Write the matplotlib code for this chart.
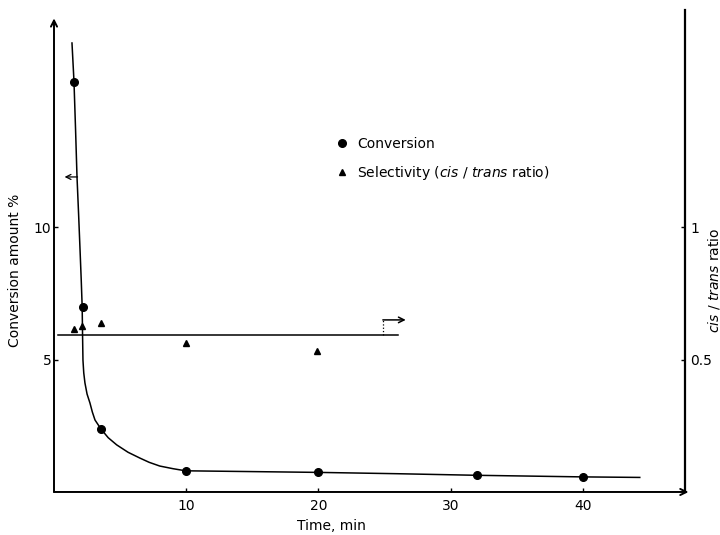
import matplotlib
matplotlib.use("Agg")
import matplotlib.pyplot as plt
from matplotlib.lines import Line2D

# measured points
time_conv = [1.5, 2.17, 3.55, 9.95, 20, 32, 40]
conversion = [15.5, 6.97, 2.38, 0.8, 0.75, 0.63, 0.56]

time_sel = [1.51, 2.14, 3.53, 9.95, 19.9]
selectivity = [0.616, 0.627, 0.637, 0.564, 0.532]

# hand-drawn curve through conversion points
curve_t = [1.36, 1.51, 1.63, 1.74, 1.86, 1.97, 2.06, 2.13, 2.16, 2.19, 2.25, 2.34,
           2.5, 2.72, 2.9, 3.1, 3.55, 4.1, 4.74, 5.6, 6.5, 7.2, 8.0, 9.0, 9.95,
           15, 20, 26, 32, 40, 44.3]
curve_y = [16.96, 15.52, 13.7, 11.9, 10.5, 9.14, 8.0, 7.0, 5.93, 4.98, 4.5, 4.12,
           3.7, 3.36, 3.02, 2.72, 2.38, 2.05, 1.78, 1.5, 1.28, 1.12, 0.98, 0.88, 0.8,
           0.77, 0.74, 0.69, 0.63, 0.57, 0.55]

# average selectivity line
sel_line_t = [0.3, 26]
sel_line_y = [0.592, 0.592]

plt.rcParams['font.family'] = ['DejaVu Sans']
plt.rcParams['mathtext.fontset'] = 'dejavusans'

fig = plt.figure(figsize=(7.2, 5.35), dpi=100)
ax = fig.add_axes([0.075, 0.0804, 0.876, 0.9006])
ax2 = ax.twinx()

ax.set_xlim(0, 47.7)
ax.set_ylim(0, 18.2)
ax2.set_ylim(0, 1.82)

ax.plot(curve_t, curve_y, color='black', lw=1.1, solid_joinstyle='round')
ax.plot(time_conv, conversion, 'o', color='black', ms=5.5)
ax2.plot(time_sel, selectivity, '^', color='black', ms=4.5)
ax2.plot(sel_line_t, sel_line_y, color='black', lw=1.1)

# direction hooks
ax.annotate('', xy=(0.8, 11.9), xytext=(1.78, 11.9),
            arrowprops=dict(arrowstyle='->', lw=0.9, color='black', mutation_scale=9,
                            shrinkA=0, shrinkB=0))
ax2.plot([24.87, 24.87], [0.592, 0.65], color='black', lw=0.9, ls=':')
ax2.annotate('', xy=(26.6, 0.65), xytext=(24.87, 0.65),
             arrowprops=dict(arrowstyle='->', lw=1.1, color='black', mutation_scale=10,
                             shrinkA=0, shrinkB=0))

# axes
for a in (ax, ax2):
    a.spines['top'].set_visible(False)
    a.spines['left'].set_visible(False)
    a.spines['bottom'].set_visible(False)
ax.spines['right'].set_visible(False)
ax2.spines['right'].set_linewidth(1.6)
ax.annotate('', xy=(0, 0.983), xytext=(0, 0), xycoords='axes fraction',
            arrowprops=dict(arrowstyle='->', lw=1.4, color='black', mutation_scale=11,
                            shrinkA=0, shrinkB=0))
ax.annotate('', xy=(1.006, 0), xytext=(0, 0), xycoords='axes fraction',
            arrowprops=dict(arrowstyle='->', lw=1.4, color='black', mutation_scale=11,
                            shrinkA=0, shrinkB=0))

ax.set_xticks([10, 20, 30, 40])
ax.set_yticks([5, 10])
ax2.set_yticks([0.5, 1])
ax2.set_yticklabels(['0.5', '1'])
ax.tick_params(axis='both', direction='in', length=3, width=1, labelsize=10)
ax.tick_params(axis='x', pad=5)
ax.tick_params(axis='y', pad=2)
ax2.tick_params(axis='y', direction='in', length=3, width=1, labelsize=10, pad=4)

ax.set_xlabel('Time, min', fontsize=10)
ax.xaxis.set_label_coords(0.44, -0.056)
ax.set_ylabel('Conversion amount %', fontsize=10)
ax.yaxis.set_label_coords(-0.051, 0.46)
ax2.set_ylabel(r'$\it{cis}$ / $\it{trans}$ ratio', fontsize=10)
ax2.yaxis.set_label_coords(1.033, 0.44)

handles = [Line2D([], [], ls='none', marker='o', color='black', ms=5.5),
           Line2D([], [], ls='none', marker='^', color='black', ms=4.5)]
fig.legend(handles, ['Conversion', r'Selectivity ($\it{cis}$ / $\it{trans}$ ratio)'],
           loc='upper left', bbox_to_anchor=(0.448, 0.767), frameon=False,
           handlelength=1, handletextpad=0.6, labelspacing=0.9, fontsize=10)

fig.savefig('out.png', dpi=100)
